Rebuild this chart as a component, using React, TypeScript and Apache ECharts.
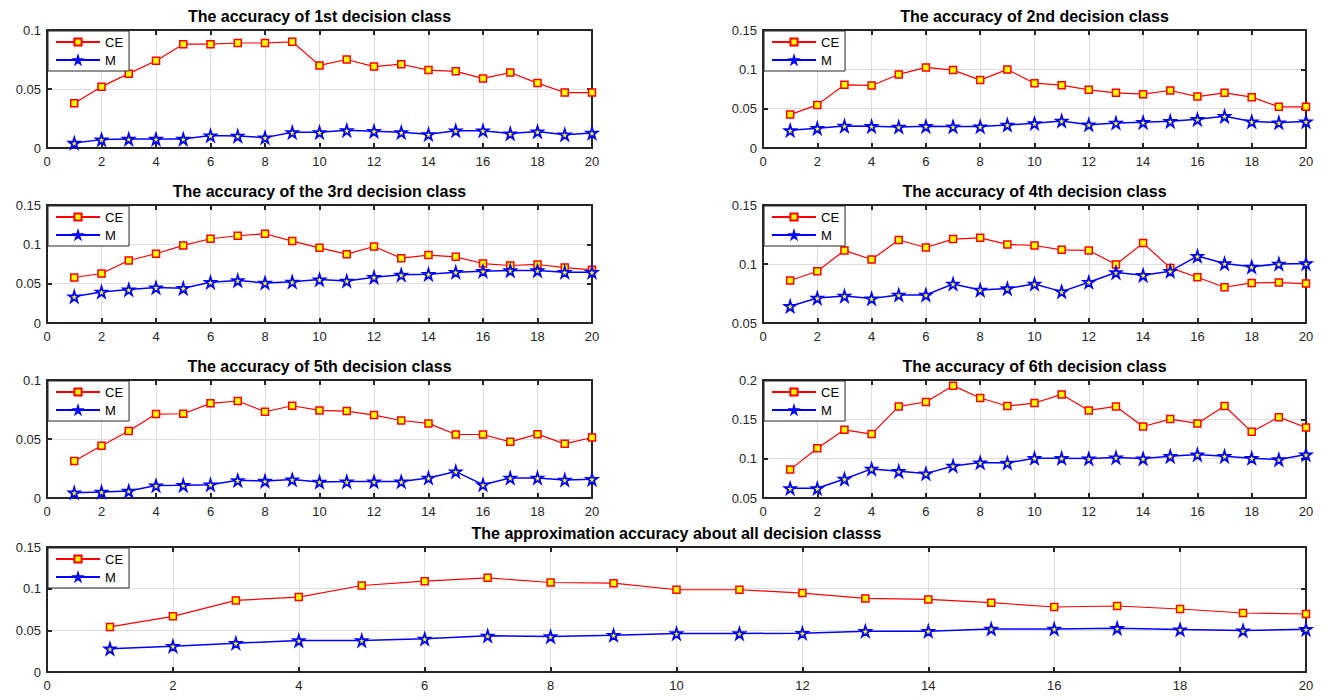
import React, { useEffect, useRef } from 'react';
import * as echarts from 'echarts';

const xs = [1, 2, 3, 4, 5, 6, 7, 8, 9, 10, 11, 12, 13, 14, 15, 16, 17, 18, 19, 20];

const c1CE = [0.038, 0.052, 0.063, 0.074, 0.088, 0.088, 0.089, 0.089, 0.090, 0.070, 0.075, 0.069, 0.071, 0.066, 0.065, 0.059, 0.064, 0.055, 0.047, 0.047];
const c1M = [0.0042, 0.0071, 0.0076, 0.0076, 0.0076, 0.0105, 0.0102, 0.0088, 0.0133, 0.0133, 0.015, 0.0142, 0.0133, 0.0116, 0.0147, 0.0147, 0.0122, 0.0139, 0.0113, 0.0127];

const c2CE = [0.0425, 0.0548, 0.0803, 0.0795, 0.0935, 0.1024, 0.099, 0.0863, 0.0999, 0.0824, 0.0799, 0.0739, 0.0701, 0.0684, 0.0731, 0.0654, 0.0701, 0.0646, 0.0523, 0.0523];
const c2M = [0.0225, 0.0251, 0.028, 0.0276, 0.0268, 0.0276, 0.0272, 0.0272, 0.0293, 0.0314, 0.0344, 0.0297, 0.0319, 0.0327, 0.034, 0.0365, 0.0404, 0.0336, 0.0323, 0.0336];

const c3CE = [0.0578, 0.0629, 0.0795, 0.088, 0.0986, 0.1071, 0.1109, 0.1135, 0.1041, 0.0956, 0.0875, 0.0973, 0.0824, 0.0863, 0.0841, 0.0756, 0.0731, 0.0744, 0.0705, 0.0676];
const c3M = [0.0336, 0.0395, 0.0425, 0.045, 0.0442, 0.0518, 0.054, 0.051, 0.0523, 0.0552, 0.0535, 0.0582, 0.0612, 0.062, 0.0646, 0.0659, 0.0667, 0.0667, 0.0646, 0.0646];

const c4CE = [0.086, 0.0939, 0.1115, 0.1038, 0.1203, 0.114, 0.1211, 0.1222, 0.1166, 0.1157, 0.112, 0.1115, 0.0996, 0.1177, 0.0967, 0.0888, 0.0803, 0.084, 0.0843, 0.0834];
const c4M = [0.0642, 0.0712, 0.0729, 0.0707, 0.0738, 0.0738, 0.0831, 0.078, 0.0792, 0.0831, 0.0766, 0.0846, 0.0928, 0.0905, 0.0939, 0.1067, 0.1004, 0.0976, 0.1001, 0.1004];

const c5CE = [0.0314, 0.0442, 0.0567, 0.0711, 0.0714, 0.0802, 0.0822, 0.0731, 0.0782, 0.0742, 0.0737, 0.0703, 0.0657, 0.0632, 0.0538, 0.0538, 0.0476, 0.0541, 0.0459, 0.0513];
const c5M = [0.0045, 0.0051, 0.0059, 0.0105, 0.0108, 0.0113, 0.015, 0.0144, 0.0156, 0.0136, 0.0139, 0.0139, 0.0139, 0.017, 0.0224, 0.0113, 0.017, 0.017, 0.0153, 0.0159];

const c6CE = [0.0861, 0.1133, 0.1367, 0.1312, 0.1664, 0.172, 0.1928, 0.1771, 0.1669, 0.1707, 0.1817, 0.1613, 0.1664, 0.1409, 0.1503, 0.1448, 0.1669, 0.1341, 0.1528, 0.1397];
const c6M = [0.0623, 0.0623, 0.0742, 0.087, 0.084, 0.081, 0.0908, 0.095, 0.0946, 0.1006, 0.1006, 0.1001, 0.1014, 0.1001, 0.1031, 0.1052, 0.1031, 0.1006, 0.0989, 0.1052];

const allCE = [0.0541, 0.0668, 0.0859, 0.0899, 0.1038, 0.109, 0.113, 0.1074, 0.1066, 0.0987, 0.0987, 0.0947, 0.0883, 0.0871, 0.0832, 0.078, 0.0792, 0.0756, 0.0708, 0.0696];
const allM = [0.0279, 0.031, 0.0346, 0.0378, 0.0378, 0.0398, 0.0434, 0.0426, 0.0442, 0.0462, 0.0462, 0.0466, 0.049, 0.049, 0.0517, 0.0517, 0.0525, 0.0509, 0.0497, 0.0513];

const titles = [
  'The accuracy of 1st decision class',
  'The accuracy of 2nd decision class',
  'The accuracy of the 3rd decision class',
  'The accuracy of 4th decision class',
  'The accuracy of 5th decision class',
  'The accuracy of 6th decision class',
  'The approximation accuracy about all decision classs',
];
const seriesCE = [c1CE, c2CE, c3CE, c4CE, c5CE, c6CE, allCE];
const seriesM = [c1M, c2M, c3M, c4M, c5M, c6M, allM];
const yMins = [0, 0, 0, 0.05, 0, 0.05, 0];
const yMaxs = [0.1, 0.15, 0.15, 0.15, 0.1, 0.2, 0.15];
const xMin = 0;
const xMax = 20;
const xStep = 2;
const yStep = 0.05;

// layout of each panel [left, top, width, height]
const layouts = [
  [47, 30, 545, 118],
  [763, 30, 543, 118],
  [47, 205, 545, 118],
  [763, 205, 543, 118],
  [47, 380, 545, 118],
  [763, 380, 543, 118],
  [47, 547, 1259, 125],
];

const STAR = 'path://M50,0 L61,35 L98,35 L68,57 L79,91 L50,70 L21,91 L32,57 L2,35 L39,35 Z';
const FONT = '"Liberation Sans", Arial, Helvetica, sans-serif';
const AX = '#262626';

export default function App() {
  const ref = useRef<HTMLDivElement>(null);
  useEffect(() => {
    if (!ref.current) return;
    const chart = echarts.init(ref.current, undefined, { renderer: 'svg' });
    const grid: any[] = [];
    const xAxis: any[] = [];
    const yAxis: any[] = [];
    const series: any[] = [];
    const legend: any[] = [];
    const graphic: any[] = [];
    const fmt = (v: number) => String(parseFloat(v.toFixed(3)));

    layouts.forEach(([l, t, w, h], i) => {
      grid.push({ left: l, top: t, width: w, height: h, containLabel: false });
      const lineCommon = { show: true, onZero: false, lineStyle: { color: AX, width: 2 } };
      const tickCommon = { show: true, inside: true, length: 5, lineStyle: { color: AX, width: 2 } };
      xAxis.push({
        gridIndex: i, type: 'value', min: xMin, max: xMax, interval: xStep, position: 'bottom',
        axisLine: lineCommon, axisTick: tickCommon,
        axisLabel: { color: AX, fontSize: 13, fontFamily: FONT, margin: 7 },
        splitLine: { show: true, lineStyle: { color: '#dedede', width: 1 } },
      });
      xAxis.push({
        gridIndex: i, type: 'value', min: xMin, max: xMax, interval: xStep, position: 'top',
        axisLine: lineCommon, axisTick: tickCommon, axisLabel: { show: false }, splitLine: { show: false },
      });
      yAxis.push({
        gridIndex: i, type: 'value', min: yMins[i], max: yMaxs[i], interval: yStep, position: 'left',
        axisLine: lineCommon, axisTick: tickCommon,
        axisLabel: { color: AX, fontSize: 13, fontFamily: FONT, margin: 6, formatter: fmt },
        splitLine: { show: true, lineStyle: { color: '#dedede', width: 1 } },
      });
      yAxis.push({
        gridIndex: i, type: 'value', min: yMins[i], max: yMaxs[i], interval: yStep, position: 'right',
        axisLine: lineCommon, axisTick: tickCommon, axisLabel: { show: false }, splitLine: { show: false },
      });
      series.push({
        type: 'line', name: 'CE', xAxisIndex: 2 * i, yAxisIndex: 2 * i,
        data: xs.map((x, j) => [x, seriesCE[i][j]]),
        symbol: 'rect', symbolSize: 7, showAllSymbol: true,
        lineStyle: { color: '#ff0000', width: 1.2 },
        itemStyle: { color: '#ffff00', borderColor: '#ff0000', borderWidth: 1.5 },
        z: 3,
      });
      series.push({
        type: 'line', name: 'M', xAxisIndex: 2 * i, yAxisIndex: 2 * i,
        data: xs.map((x, j) => [x, seriesM[i][j]]),
        symbol: STAR, symbolSize: 11, showAllSymbol: true,
        lineStyle: { color: '#0000ff', width: 1.5 },
        itemStyle: { color: '#ffff00', borderColor: '#0000ff', borderWidth: 1.8 },
        z: 3,
      });
      legend.push({
        left: l + 1, top: t + 1, orient: 'vertical', data: ['CE', 'M'],
        backgroundColor: '#ffffff', borderColor: AX, borderWidth: 1, borderRadius: 0,
        padding: [4, 6, 4, 7], itemGap: 4, itemWidth: 44, itemHeight: 9,
        textStyle: { fontSize: 13, color: '#000', fontFamily: FONT, lineHeight: 14 },
        z: 10,
      });
      graphic.push({
        type: 'text', x: l + w / 2, y: t - 14,
        style: {
          text: titles[i], fill: '#000', fontSize: 16, fontWeight: 'bold', fontFamily: FONT,
          textAlign: 'center', textVerticalAlign: 'middle',
        },
      });
    });

    chart.setOption({
      animation: false,
      backgroundColor: '#ffffff',
      grid, xAxis, yAxis, series, legend, graphic,
    });
    return () => chart.dispose();
  }, []);
  return (
    <div
      ref={ref}
      style={{ position: 'fixed', left: 0, top: 0, width: 1327, height: 697, background: '#fff' }}
    />
  );
}
